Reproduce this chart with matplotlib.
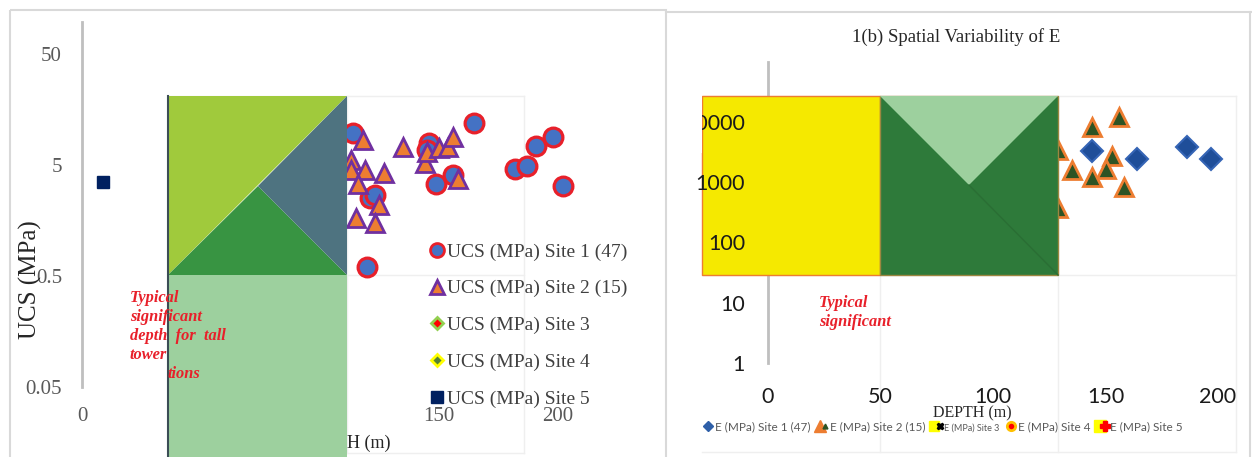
import matplotlib
matplotlib.use("Agg")
import matplotlib.pyplot as plt
from matplotlib.patches import Polygon, Rectangle
from matplotlib.lines import Line2D
from matplotlib.transforms import Affine2D
from matplotlib.legend_handler import HandlerTuple

# ---- data ----
# left panel: UCS (MPa) against depth (m)
ucs_site1_depth = [114, 121, 123, 120, 146, 145, 149, 156, 165, 182, 187, 191, 198, 202]
ucs_site1 = [9.7, 2.5, 2.7, 0.60, 7.9, 6.8, 3.4, 4.1, 11.9, 4.6, 4.9, 7.4, 8.9, 3.2]
ucs_site2_depth = [118, 113, 113, 119, 127, 116, 125, 115, 123, 135, 144, 145, 150, 154, 156, 158]
ucs_site2 = [8.4, 5.5, 4.5, 4.5, 4.2, 3.4, 2.2, 1.67, 1.5, 7.3, 5.2, 6.5, 7.1, 7.3, 8.9, 3.7]
ucs_site5_depth = [9]
ucs_site5 = [3.5]
ucs_labels = ["UCS (MPa) Site 1 (47)", "UCS (MPa) Site 2 (15)", "UCS (MPa) Site 3",
              "UCS (MPa) Site 4", "UCS (MPa) Site 5"]
ucs_yticks = [0.05, 0.5, 5, 50]
ucs_yticklabels = ["0.05", "0.5", "5", "50"]

# right panel: E (MPa) against depth (m)
e_site1_depth = [144, 164, 186, 197]
e_site1 = [3270, 2400, 3800, 2400]
e_site2_depth = [129, 144, 156, 153, 150, 135, 144, 158, 129]
e_site2 = [3400, 8160, 11970, 2700, 1640, 1580, 1210, 826, 370]
e_labels = ["E (MPa) Site 1 (47)", "E (MPa) Site 2 (15)", "E (MPa) Site 3",
            "E (MPa) Site 4", "E (MPa) Site 5"]
e_yticks = [1, 10, 100, 1000, 10000]
e_yticklabels = ["1", "10", "100", "1000", "10000"]

depth_ticks = [0, 50, 100, 150, 200]
note_left = ["Typical", "significant", "depth  for  tall", "tower"]
note_right = ["Typical", "significant"]

W, H = 1252, 457
fig = plt.figure(figsize=(W / 100, H / 100), dpi=100)
# pixel coordinates of the picture (y downwards)
pix = Affine2D().scale(1 / W, -1 / H).translate(0, 1) + fig.transFigure


def axes_px(x0, y0, x1, y1):
    return fig.add_axes([x0 / W, 1 - y1 / H, (x1 - x0) / W, (y1 - y0) / H])


serif = "Liberation Serif"
red = "#E8202A"

# panel frames
fig.add_artist(Rectangle((10, 10), 656, 470, transform=pix, fill=False, ec="#D9D9D9", lw=1.5))
fig.add_artist(Line2D([666, 1252], [12, 12], transform=pix, color="#D9D9D9", lw=1.5))
fig.add_artist(Line2D([1250, 1250], [12, 457], transform=pix, color="#D9D9D9", lw=1.5))

# ================= left panel =================
axL = axes_px(82, 22, 641, 387)
axL.set_yscale("log")
axL.patch.set_visible(False)

for yy in (96, 275, 453):
    axL.add_line(Line2D([168, 524], [yy, yy], transform=pix, color="#EFEFEF", lw=1, zorder=1, clip_on=False))
for xx in (347, 524):
    axL.add_line(Line2D([xx, xx], [96, 453], transform=pix, color="#EFEFEF", lw=1, zorder=1, clip_on=False))

axL.plot(ucs_site1_depth, ucs_site1, ls="none", marker="o", ms=13.5, mfc="#4472C4",
         mec="#E8202A", mew=2.3, zorder=2, clip_on=False)
axL.plot(ucs_site2_depth, ucs_site2, ls="none", marker="^", ms=12.5, mfc="#ED7D31",
         mec="#7030A0", mew=2, zorder=2, clip_on=False)
axL.plot(ucs_site5_depth, ucs_site5, ls="none", marker="s", ms=8, mfc="#002060",
         mec="#002060", zorder=2, clip_on=False)

# coloured block laid over the chart
axL.add_patch(Polygon([(168, 96), (347, 96), (168, 275)], closed=True, transform=pix,
                      fc="#A0CA3C", ec="none", zorder=4, clip_on=False))
axL.add_patch(Polygon([(168, 275), (258, 186), (347, 275)], closed=True, transform=pix,
                      fc="#389442", ec="none", zorder=4, clip_on=False))
axL.add_patch(Polygon([(258, 186), (347, 96), (347, 275)], closed=True, transform=pix,
                      fc="#4E7380", ec="none", zorder=4, clip_on=False))
axL.add_patch(Rectangle((168, 275), 179, 185, transform=pix, fc="#9DD09E", ec="none",
                        zorder=4, clip_on=False))
axL.add_line(Line2D([168, 168], [96, 457], transform=pix, color="#3B4D55", lw=1.5,
                    zorder=4.5, clip_on=False))

for i, line in enumerate(note_left):
    axL.text(130, 298 + 19 * i, line, transform=pix, color=red, family=serif, fontsize=11.8,
             fontweight="bold", style="italic", va="center", ha="left", zorder=6)
axL.text(168, 374, "tions", transform=pix, color=red, family=serif, fontsize=11.8,
         fontweight="bold", style="italic", va="center", ha="left", zorder=6)

axL.set_xlim(0, 235)
axL.set_ylim(0.05, 97)
axL.yaxis.set_minor_locator(matplotlib.ticker.NullLocator())
axL.set_yticks(ucs_yticks)
axL.set_yticklabels(ucs_yticklabels)
axL.set_xticks(depth_ticks)
axL.set_xticklabels([str(t) for t in depth_ticks])
axL.tick_params(axis="y", length=0, pad=14.4, labelsize=15, labelcolor="#595959")
axL.tick_params(axis="x", length=0, pad=14.5, labelsize=15, labelcolor="#595959")
for lab in axL.get_xticklabels() + axL.get_yticklabels():
    lab.set_family(serif)
for s in ("top", "right", "bottom"):
    axL.spines[s].set_visible(False)
axL.spines["left"].set_color("#BFBFBF")
axL.spines["left"].set_linewidth(2)

axL.text(346, 443, "DEPTH (m)", transform=pix, family=serif, fontsize=13, color="#262626",
         ha="center", va="center", zorder=3)
axL.text(30, 280, "UCS (MPa)", transform=pix, family=serif, fontsize=18, color="#262626",
         rotation=90, ha="center", va="center")

hL = [
    Line2D([], [], ls="none", marker="o", ms=10, mfc="#4472C4", mec="#E8202A", mew=2),
    Line2D([], [], ls="none", marker="^", ms=10, mfc="#ED7D31", mec="#7030A0", mew=2),
    Line2D([], [], ls="none", marker="D", ms=6, mfc="#FF0000", mec="#92D050", mew=2),
    Line2D([], [], ls="none", marker="D", ms=6, mfc="#548235", mec="#FFFF00", mew=2),
    Line2D([], [], ls="none", marker="s", ms=9, mfc="#002060", mec="#002060"),
]
axL.legend(hL, ucs_labels, loc="upper left", bbox_to_anchor=(430 / W, 1 - 243 / H),
           bbox_transform=fig.transFigure, frameon=False, prop=dict(family=serif, size=14),
           labelcolor="#404040", handlelength=0.7, handletextpad=0.15, labelspacing=0.98,
           borderpad=0, borderaxespad=0)

# ================= right panel =================
axR = axes_px(768, 62, 1236, 363)
axR.set_yscale("log")
axR.patch.set_visible(False)

for yy in (96, 275, 452):
    axR.add_line(Line2D([702, 1236], [yy, yy], transform=pix, color="#EFEFEF", lw=1, zorder=1, clip_on=False))
for xx in (880, 1058, 1236):
    axR.add_line(Line2D([xx, xx], [96, 452], transform=pix, color="#EFEFEF", lw=1, zorder=1, clip_on=False))

axR.plot(e_site1_depth, e_site1, ls="none", marker="D", ms=11.5, mfc="#1F4E99",
         mec="#3565B5", mew=1.5, zorder=2, clip_on=False)
axR.plot(e_site2_depth, e_site2, ls="none", marker="^", ms=13, mfc="#2D5324",
         mec="#ED7D31", mew=2, zorder=2, clip_on=False)

axR.add_patch(Rectangle((702, 96), 178, 179, transform=pix, fc="#F5E900", ec="#ED7D31",
                        lw=1, zorder=3, clip_on=False))
axR.add_patch(Rectangle((880, 96), 178, 179, transform=pix, fc="#2E7A3A", ec="#9C8640",
                        lw=1, zorder=3, clip_on=False))
axR.add_patch(Polygon([(880, 96), (1058, 96), (969, 185)], closed=True, transform=pix,
                      fc="#9DD09E", ec="none", zorder=3.1, clip_on=False))
axR.add_line(Line2D([969, 1058], [185, 275], transform=pix, color="#2A6E34", lw=1,
                    zorder=3.1, clip_on=False))
axR.yaxis.set_zorder(4)
# the picture of this chart was cut at its left side, next to the top label
axR.add_patch(Rectangle((667, 13), 35, 140, transform=pix, fc="white", ec="none",
                        zorder=5, clip_on=False))

for i, line in enumerate(note_right):
    axR.text(819, 303 + 19 * i, line, transform=pix, color=red, family=serif, fontsize=11.8,
             fontweight="bold", style="italic", va="center", ha="left", zorder=6)

axR.set_xlim(0, 208)
axR.set_ylim(1, 98000)
axR.yaxis.set_minor_locator(matplotlib.ticker.NullLocator())
axR.set_yticks(e_yticks)
axR.set_yticklabels(e_yticklabels)
axR.set_xticks(depth_ticks)
axR.set_xticklabels([str(t) for t in depth_ticks])
axR.tick_params(axis="y", length=0, pad=16.5, labelsize=15.5, labelcolor="#1A1A1A")
axR.tick_params(axis="x", length=0, pad=17.5, labelsize=15.5, labelcolor="#1A1A1A")
for lab in axR.get_xticklabels() + axR.get_yticklabels():
    lab.set_family("Lato")
for s in ("top", "right", "bottom"):
    axR.spines[s].set_visible(False)
axR.spines["left"].set_color("#BFBFBF")
axR.spines["left"].set_linewidth(2)

axR.text(956, 37, "1(b) Spatial Variability of E", transform=pix, family=serif,
         fontsize=13.5, color="#262626", ha="center", va="center")
axR.text(972, 413, "DEPTH (m)", transform=pix, family=serif, fontsize=11.5,
         color="#262626", ha="center", va="center")

hR = [
    Line2D([], [], ls="none", marker="D", ms=5, mfc="#2E5FA8", mec="#2E5FA8"),
    (Line2D([], [], ls="none", marker="^", ms=9, mfc="#ED7D31", mec="#ED7D31"),
     Line2D([], [], ls="none", marker="^", ms=3.5, mfc="#2D5324", mec="#2D5324")),
    (Line2D([], [], ls="none", marker="s", ms=7, mfc="#FFFF00", mec="#FFFF00"),
     Line2D([], [], ls="none", marker="X", ms=5, mfc="black", mec="black")),
    Line2D([], [], ls="none", marker="o", ms=6, mfc="#FF0000", mec="#FFC000", mew=2),
    (Line2D([], [], ls="none", marker="s", ms=8, mfc="#FFFF00", mec="#FFFF00"),
     Line2D([], [], ls="none", marker="P", ms=6.5, mfc="#FF0000", mec="#FF0000")),
]
legR = axR.legend(hR, e_labels, ncol=5, loc="center left", bbox_to_anchor=(703 / W, 1 - 427 / H),
                  bbox_transform=fig.transFigure, frameon=False, prop=dict(family="Lato", size=8.5),
                  labelcolor="#595959", handlelength=0.9, handletextpad=0.15, columnspacing=0.55,
                  borderpad=0, borderaxespad=0, handler_map={tuple: HandlerTuple(ndivide=None)})
legR.get_texts()[2].set_fontsize(6.5)

fig.savefig("out.png", dpi=100)
